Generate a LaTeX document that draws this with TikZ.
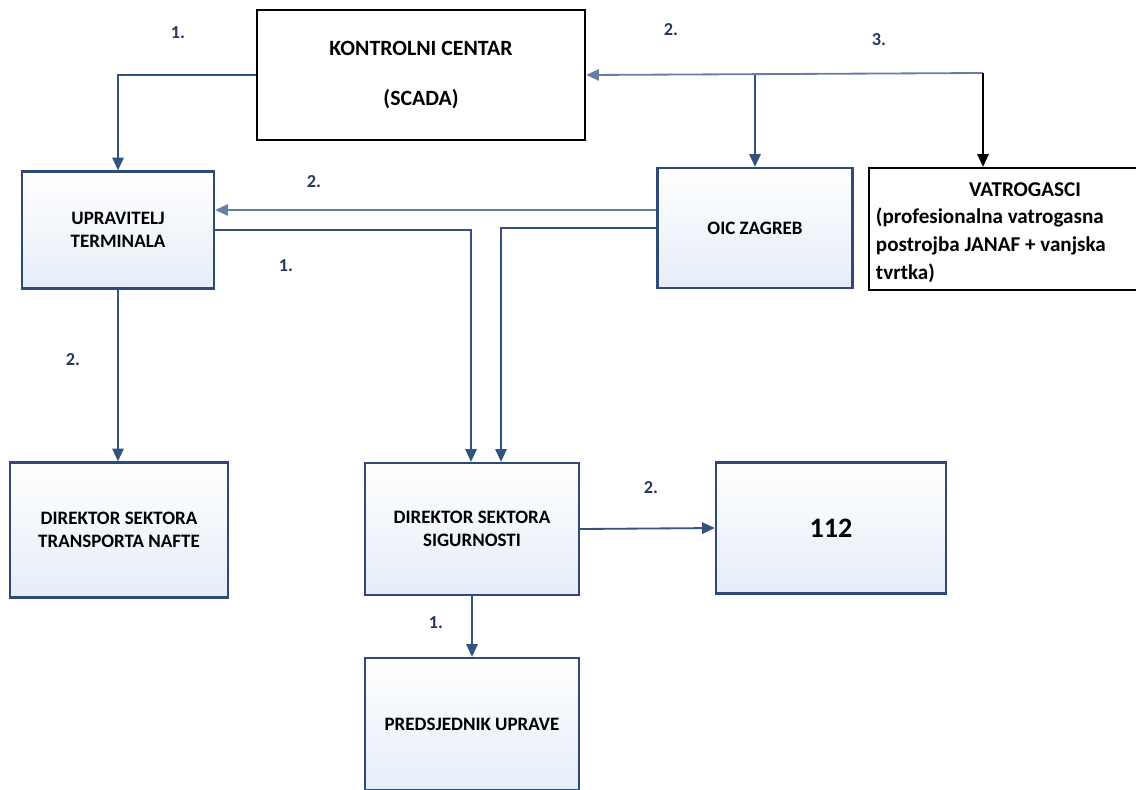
\documentclass[tikz,border=0pt]{standalone}
\usepackage{fontspec}
\setmainfont{Carlito}
\usetikzlibrary{arrows.meta}

\definecolor{boxblue}{HTML}{2E4A78}
\definecolor{boxfill}{HTML}{E6EDF7}
\definecolor{lineblue}{HTML}{34527F}
\definecolor{lightline}{HTML}{6580A6}
\definecolor{numblue}{HTML}{24385C}

\begin{document}
\begin{tikzpicture}[x=0.025cm,y=-0.025cm,
  bluebox/.style={draw=boxblue,line width=1.6pt,top color=white,bottom color=boxfill,
    align=center,font=\bfseries\fontsize{13.5}{16.5}\selectfont},
  whitebox/.style={draw=black,line width=1.6pt,fill=white,
    align=center,font=\bfseries\fontsize{13.5}{16.5}\selectfont},
  vattext/.style={font=\bfseries\fontsize{15}{19.9}\selectfont},
  num/.style={text=numblue,font=\bfseries\fontsize{13}{15}\selectfont},
  arr/.style={draw=lineblue,line width=1.3pt,-{Triangle[length=9pt,width=8pt]}},
  lightarr/.style={draw=lightline,line width=1.3pt,-{Triangle[length=9pt,width=8pt]}}]

\clip (0,0) rectangle (1136,789);

% Draw the boxes
\node[whitebox,minimum width=8.2cm,minimum height=3.25cm,font=\bfseries\fontsize{15.5}{18}\selectfont] (kc) at (421,75) {KONTROLNI CENTAR\\[17pt](SCADA)};
\node[bluebox,minimum width=4.8cm,minimum height=2.925cm] (ut) at (118,230) {UPRAVITELJ\\TERMINALA};
\node[bluebox,minimum width=4.875cm,minimum height=3cm] (oic) at (755,228) {OIC ZAGREB};
\node[whitebox,minimum width=7.9cm,minimum height=3.05cm] (vat) at (1027,229) {};
\node[vattext] (vathead) at (1025,190) {VATROGASCI};
\node[vattext,anchor=west,align=left] (vatbody) at (871,245) {(profesionalna vatrogasna\\postrojba JANAF + vanjska\\tvrtka)};
\node[bluebox,minimum width=5.45cm,minimum height=3.375cm] (dst) at (119,530) {DIREKTOR SEKTORA\\TRANSPORTA NAFTE};
\node[bluebox,minimum width=5.35cm,minimum height=3.3cm] (dss) at (472,529) {DIREKTOR SEKTORA\\SIGURNOSTI};
\node[bluebox,minimum width=5.75cm,minimum height=3.275cm,font=\bfseries\fontsize{20}{24}\selectfont] (d112) at (831,528) {112};
\node[bluebox,minimum width=5.35cm,minimum height=3.3cm] (pu) at (472,724) {PREDSJEDNIK UPRAVE};

% Draw the connectors
\coordinate (fork) at (983,73);
\draw[arr] (kc.west) -| (ut.north);
\draw[lightarr] (fork) -- (kc.east);
\draw[arr] (oic.north |- kc.east) -- (oic.north);
\draw[arr,draw=black] (fork) -- (fork |- vat.north);
\draw[lightarr] ([yshift=0.45cm]oic.west) -- ([yshift=0.45cm]oic.west -| ut.east);
\draw[arr] (ut.east) -| ([xshift=-0.025cm]dss.north);
\draw[arr] (oic.west) -| ([xshift=0.725cm]dss.north);
\draw[arr] (ut.south) -- (ut.south |- dst.north);
\draw[arr] (dss.east) -- (d112.west);
\draw[arr] (dss.south) -- (pu.north);

% Draw the numbers
\node[num] (n1) at (178,33) {1.};
\node[num] (n2) at (671,30) {2.};
\node[num] (n3) at (879,40) {3.};
\node[num] (n4) at (314,182) {2.};
\node[num] (n5) at (286,266) {1.};
\node[num] (n6) at (73,360) {2.};
\node[num] (n7) at (436,623) {1.};
\node[num] (n8) at (651,488) {2.};

\end{tikzpicture}
\end{document}
